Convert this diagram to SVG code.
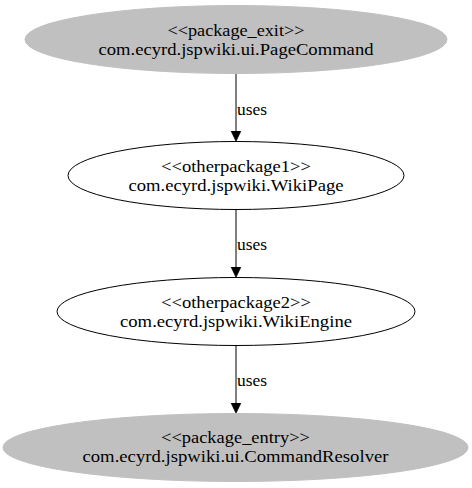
<svg xmlns="http://www.w3.org/2000/svg" width="472" height="488" viewBox="0 0 472 488">
<style>
  text { font-family: "Liberation Serif", "Times New Roman", serif; font-size: 17px; fill: #000; }
  .node text { text-anchor: middle; }
  .gray ellipse { fill: #c0c0c0; stroke: #c0c0c0; }
  .plain ellipse { fill: #fff; stroke: #000; stroke-width: 1; }
  .edge line { stroke: #000; stroke-width: 1; }
</style>
<defs>
  <marker id="arr" markerUnits="userSpaceOnUse" markerWidth="11" markerHeight="11" refX="0" refY="5" orient="auto">
    <path d="M0,0 L10.5,5 L0,10 z" fill="#000" stroke="#000" stroke-width="0.5"/>
  </marker>
</defs>
<rect width="472" height="488" fill="#fff"/>
<g id="connectors">
  <g class="edge">
    <line x1="236" y1="73.5" x2="236" y2="131" marker-end="url(#arr)"/>
    <text x="237" y="114.5" textLength="30" lengthAdjust="spacingAndGlyphs">uses</text>
  </g>
  <g class="edge">
    <line x1="236" y1="209.5" x2="236" y2="267" marker-end="url(#arr)"/>
    <text x="237" y="250" textLength="30" lengthAdjust="spacingAndGlyphs">uses</text>
  </g>
  <g class="edge">
    <line x1="236" y1="345.5" x2="236" y2="403" marker-end="url(#arr)"/>
    <text x="237" y="386" textLength="30" lengthAdjust="spacingAndGlyphs">uses</text>
  </g>
</g>
<g id="PageCommand" class="node gray">
  <ellipse cx="236" cy="39.5" rx="211" ry="34"/>
  <text x="236" y="35.5" textLength="137" lengthAdjust="spacingAndGlyphs">&lt;&lt;package_exit&gt;&gt;</text>
  <text x="236" y="54.5" textLength="275" lengthAdjust="spacingAndGlyphs">com.ecyrd.jspwiki.ui.PageCommand</text>
</g>
<g id="WikiPage" class="node plain">
  <ellipse cx="236" cy="175.5" rx="168" ry="34"/>
  <text x="236" y="171.5" textLength="150" lengthAdjust="spacingAndGlyphs">&lt;&lt;otherpackage1&gt;&gt;</text>
  <text x="236" y="190.5" textLength="215" lengthAdjust="spacingAndGlyphs">com.ecyrd.jspwiki.WikiPage</text>
</g>
<g id="WikiEngine" class="node plain">
  <ellipse cx="236" cy="311.5" rx="179" ry="34"/>
  <text x="236" y="307.5" textLength="150" lengthAdjust="spacingAndGlyphs">&lt;&lt;otherpackage2&gt;&gt;</text>
  <text x="236" y="326.5" textLength="232" lengthAdjust="spacingAndGlyphs">com.ecyrd.jspwiki.WikiEngine</text>
</g>
<g id="CommandResolver" class="node gray">
  <ellipse cx="235.5" cy="447.5" rx="232.5" ry="34"/>
  <text x="235.5" y="443" textLength="149" lengthAdjust="spacingAndGlyphs">&lt;&lt;package_entry&gt;&gt;</text>
  <text x="235.5" y="462" textLength="306" lengthAdjust="spacingAndGlyphs">com.ecyrd.jspwiki.ui.CommandResolver</text>
</g>
</svg>
